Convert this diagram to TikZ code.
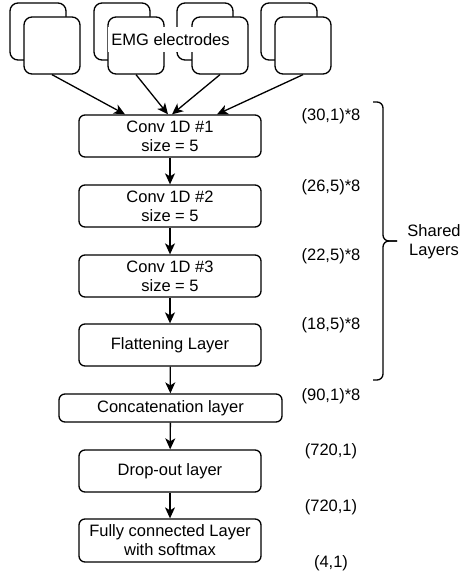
\documentclass[tikz,border=0pt]{standalone}
\usepackage{fontspec}
\setmainfont{Liberation Sans}
\usetikzlibrary{arrows.meta,calc}
\begin{document}
\begin{tikzpicture}[x=1pt,y=-1pt,
  every node/.style={font=\fontsize{16.5}{19}\selectfont, inner sep=0pt},
  layer/.style={draw, line width=1.3pt, rounded corners=6pt, fill=white, minimum width=182pt, minimum height=42pt, align=center},
  electrode/.style={draw, line width=1.3pt, rounded corners=8pt, fill=white, minimum width=56pt, minimum height=57pt},
  conn/.style={line width=1.3pt, -{Stealth[length=11pt,width=10pt,inset=3pt]}},
  bracestyle/.style={line width=1.3pt, line join=round, rounded corners=6pt}
]
\useasboundingbox (0,0) rectangle (461,578);

% electrodes
\node[electrode] (e1b) at (38,31.5) {};
\node[electrode] (e1f) at (52,45.5) {};
\node[electrode] (e2b) at (122,31.5) {};
\node[electrode] (e2f) at (136,45.5) {};
\node[electrode] (e3b) at (205,31.5) {};
\node[electrode] (e3f) at (220,45.5) {};
\node[electrode] (e4b) at (289,31.5) {};
\node[electrode] (e4f) at (303,45.5) {};
\node[fill=white, minimum width=125pt, minimum height=25pt] (emg) at (170.5,39.5) {EMG electrodes};

% layers
\node[layer] (c1) at (170,136) {Conv 1D \#1\\size = 5};
\node[layer] (c2) at (170,206) {Conv 1D \#2\\size = 5};
\node[layer] (c3) at (170,276) {Conv 1D \#3\\size = 5};
\node[layer] (fl) at (170,345) {Flattening Layer};
\node[layer, minimum width=223pt, minimum height=28pt] (cc) at (170.5,408) {Concatenation layer};
\node[layer] (dr) at (170,471) {Drop-out layer};
\node[layer, minimum height=43pt] (fc) at (170,540.5) {Fully connected Layer\\with softmax};

% connectors
\draw[conn] (e1f.south) -- ($(c1.north)+(-45,0)$);
\draw[conn] (e2f.south) -- ($(c1.north)+(-2,0)$);
\draw[conn] (e3f.south) -- ($(c1.north)+(2,0)$);
\draw[conn] (e4f.south) -- ($(c1.north)+(47,0)$);
\draw[conn] (c1) -- (c2);
\draw[conn] (c2) -- (c3);
\draw[conn] (c3) -- (fl);
\draw[conn] (fl) -- (cc);
\draw[conn] (cc) -- (dr);
\draw[conn] (dr) -- (fc);

% dimension labels
\node (l1) at (331,116) {(30,1)*8};
\node (l2) at (331,187) {(26,5)*8};
\node (l3) at (331,256) {(22,5)*8};
\node (l4) at (331,325) {(18,5)*8};
\node (l5) at (331,396) {(90,1)*8};
\node (l6) at (331,451) {(720,1)};
\node (l7) at (331,507) {(720,1)};
\node (l8) at (331,563) {(4,1)};

% brace
\coordinate (bt) at (373,102);
\coordinate (bm) at (397,241);
\coordinate (bb) at (373,380);
\draw[bracestyle] (bt) -- (383,102) -- (383,241) -- (bm);
\draw[bracestyle] (bm) -- (383,241) -- (383,380) -- (bb);
\node[align=center] (sh) at (434,242) {Shared\\Layers};
\end{tikzpicture}
\end{document}
